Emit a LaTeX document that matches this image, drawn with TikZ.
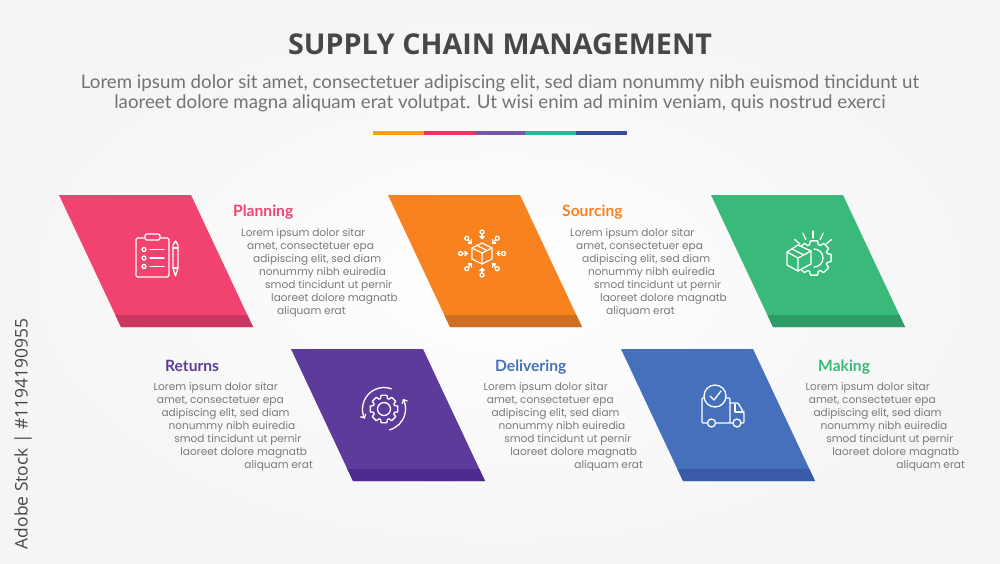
\documentclass[tikz,border=0pt]{standalone}
\usepackage{fontspec}
\setmainfont{Lato}
\newfontfamily\titlefont{Open Sans}
\newfontfamily\bodyfont{Poppins}
\usetikzlibrary{arrows.meta}
\definecolor{pinkc}{HTML}{F2426F}
\definecolor{pinkd}{HTML}{CE3560}
\definecolor{orangec}{HTML}{F98220}
\definecolor{oranged}{HTML}{CF6D22}
\definecolor{greenc}{HTML}{39B97A}
\definecolor{greend}{HTML}{2F9B67}
\definecolor{purplec}{HTML}{5D3B9B}
\definecolor{purpled}{HTML}{4F2A8F}
\definecolor{bluec}{HTML}{4670BC}
\definecolor{blued}{HTML}{3A5CA8}
\tikzset{
	bodytext/.style={font=\bodyfont\fontsize{10.55}{12}\selectfont, text=black!52, inner sep=0pt},
	headtext/.style={font=\bfseries\fontsize{15.6}{17}\selectfont, inner sep=0pt},
	subtext/.style={font=\fontsize{18.7}{21}\selectfont, text=black!55, inner sep=0pt},
	icon/.style={draw=white, line width=1.3pt, line join=round, line cap=round},
}
% one slanted panel with its darker foot
\newcommand{\paneldark}[4]{
	\fill[#3] (#1,#2) -- (#1+132,#2) -- (#1+194,#2+132) -- (#1+62,#2+132) -- cycle;
	\fill[#4] (#1+56.4,#2+120) -- (#1+188.4,#2+120) -- (#1+194,#2+132) -- (#1+62,#2+132) -- cycle;
}
\newcommand{\textlines}{{Lorem ipsum dolor sitar},{amet, consectetuer epa},{adipiscing elit, sed diam},{nonummy nibh euiredia},{smod tincidunt ut pernir},{laoreet dolore magnatb},{aliquam erat}}
% text stepping to the right, left aligned
\newcommand{\leftblock}[3]{
	\foreach \ln [count=\i] in \textlines {
		\node[bodytext, anchor=base west] (#1-\i) at ({#2+6*(\i-1)},{#3+13*(\i-1)}) {\ln};
	}
}
% same, right aligned
\newcommand{\rightblock}[3]{
	\foreach \ln [count=\i] in \textlines {
		\node[bodytext, anchor=base east] (#1-\i) at ({#2+5.85*(\i-1)},{#3+13*(\i-1)}) {\ln};
	}
}
% gear outline: centre x, centre y, outer radius, inner radius
\newcommand{\gearicon}[4]{
	\draw[icon] ({#1+#3*cos(-12)},{#2+#3*sin(-12)})
		\foreach \a in {0,45,...,315} {
			-- ({#1+#3*cos(\a-12)},{#2+#3*sin(\a-12)}) -- ({#1+#3*cos(\a+12)},{#2+#3*sin(\a+12)})
			-- ({#1+#4*cos(\a+18)},{#2+#4*sin(\a+18)}) -- ({#1+#4*cos(\a+27)},{#2+#4*sin(\a+27)})
		} -- cycle;
}
\begin{document}
\begin{tikzpicture}[x=1pt,y=-1pt]
	\useasboundingbox (0,0) rectangle (1000,563);
	\shade[inner color=white, outer color=black!4] (0,0) rectangle (1000,563);

	% heading
	\node[font=\titlefont\bfseries\fontsize{28.7}{32}\selectfont, text=black!72, inner sep=0pt] (title) at (500,44) {SUPPLY CHAIN MANAGEMENT};
	\node[subtext] (sub1) at (500,83) {Lorem ipsum dolor sit amet, consectetuer adipiscing elit, sed diam nonummy nibh euismod tincidunt ut};
	\node[subtext] (sub2) at (500,103) {laoreet dolore magna aliquam erat volutpat. Ut wisi enim ad minim veniam, quis nostrud exerci};
	\foreach \c [count=\i from 0] in {F9A11B,EE3560,7359A6,2FB596,3A4BA0} {
		\definecolor{barc}{HTML}{\c}
		\fill[barc] ({373+50.8*\i},131) rectangle ({373+50.8*(\i+1)},134.5);
	}

	% panels
	\paneldark{59}{195}{pinkc}{pinkd}
	\paneldark{388}{195}{orangec}{oranged}
	\paneldark{711}{195}{greenc}{greend}
	\paneldark{291}{349}{purplec}{purpled}
	\paneldark{621}{349}{bluec}{blued}

	% labels
	\node[headtext, text=pinkc, anchor=base west] (planning) at (233,216) {Planning};
	\leftblock{planningtext}{241}{236}
	\node[headtext, text=orangec, anchor=base west] (sourcing) at (562,216) {Sourcing};
	\leftblock{sourcingtext}{570}{236}
	\node[headtext, text=purplec, anchor=base west] (returns) at (165,371) {Returns};
	\rightblock{returnstext}{278}{390}
	\node[headtext, text=bluec, anchor=base west] (delivering) at (495,371) {Delivering};
	\rightblock{deliveringtext}{608}{390}
	\node[headtext, text=greenc, anchor=base west] (making) at (818,371) {Making};
	\rightblock{makingtext}{930}{390}

	% clipboard
	\draw[icon, rounded corners=1.5pt] (145,238) -- (136,238) -- (136,277) -- (169,277) -- (169,238) -- (160,238);
	\draw[icon, rounded corners=1.5pt] (145,234) rectangle (160,240);
	\foreach \y in {249.5,258,266.5} {
		\draw[icon] (144,\y) circle (2);
		\draw[icon] (150,\y) -- (164,\y);
	}
	\draw[icon] (173,245) -- (173,268) -- (175.5,276) -- (178,268) -- (178,245) -- (175.5,241) -- cycle;
	\draw[icon] (173,248) -- (178,248) (173,268) -- (178,268);

	% box with arrows
	\draw[icon] (482,243) -- (492,248) -- (492,259) -- (482,264) -- (472,259) -- (472,248) -- cycle;
	\draw[icon] (472,248) -- (482,253) -- (492,248) (482,253) -- (482,264) (477,245.5) -- (487,250.5);
	\foreach \a in {0,45,...,315} {
		\draw[icon, -{Straight Barb[length=2.5pt,width=5pt]}] ({482+19*cos(\a)},{253.5+19*sin(\a)}) -- ({482+14*cos(\a)},{253.5+14*sin(\a)});
		\draw[icon] ({482+21.5*cos(\a)},{253.5+21.5*sin(\a)}) circle (2);
	}

	% box in front of gear
	\gearicon{814}{258}{17.5}{14}
	\draw[icon, fill=greenc] (798,245) -- (811,251) -- (811,264) -- (798,271) -- (787,265) -- (787,252) -- cycle;
	\draw[icon] (787,252) -- (798,258) -- (811,251) (798,258) -- (798,271) (792,249) -- (804,255);
	\draw[icon] (814,249) arc (-90:90:9);
	\foreach \a in {-140,-115,-90,-65,-40} {
		\draw[icon] ({813+17*cos(\a)},{255+17*sin(\a)}) -- ({813+24*cos(\a)},{255+24*sin(\a)});
	}

	% gear with round arrows
	\gearicon{384}{409}{14}{11}
	\draw[icon] (384,409) circle (6.5);
	\draw[icon, -{Straight Barb[length=3pt,width=6pt]}] ({384+21.5*cos(75)},{409+21.5*sin(75)}) arc (75:-28:21.5);
	\draw[icon, -{Straight Barb[length=3pt,width=6pt]}] ({384+21.5*cos(-70)},{409+21.5*sin(-70)}) arc (-70:-207:21.5);

	% truck
	\draw[icon, rounded corners=1pt] (707,423) -- (702,423) -- (702,398) -- (704,398);
	\draw[icon, rounded corners=1pt] (726,398) -- (730,398) -- (730,423) -- (716,423);
	\draw[icon, rounded corners=1pt] (730,403) -- (738,403) -- (744,413) -- (744,423) -- (741,423) (733,423) -- (730,423);
	\draw[icon] (735,404) -- (735,412) -- (744,412);
	\draw[icon] (711.5,423) circle (4);
	\draw[icon] (737,423) circle (4);
	\draw[icon, fill=bluec] (715,396) circle (11);
	\draw[icon] (710,396) -- (714,400) -- (721,391);

	% stock number
	\node[font=\titlefont\fontsize{17.4}{20}\selectfont, text=black!72, rotate=90, inner sep=0pt] (stock) at (23,434) {Adobe Stock | \#1194190955};
\end{tikzpicture}
\end{document}
